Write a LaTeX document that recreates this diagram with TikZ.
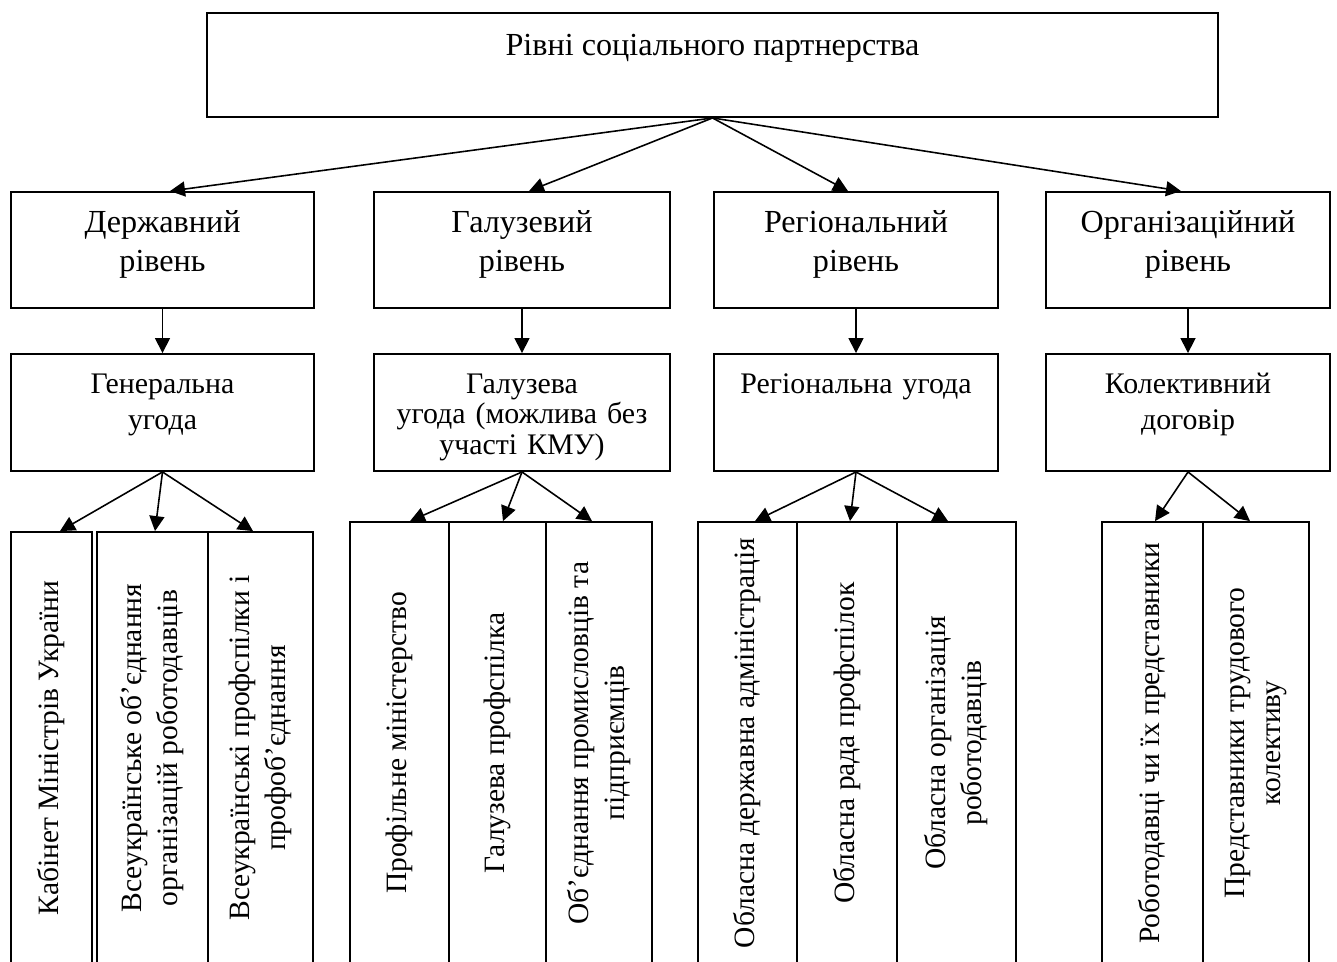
\documentclass[tikz,border=0pt]{standalone}
\usepackage{fontspec}
\setmainfont{Liberation Serif}
\usetikzlibrary{arrows.meta}

\begin{document}
\begin{tikzpicture}[x=0.02cm,y=-0.02cm,
  box/.style={draw,line width=1.1pt,inner sep=0pt,align=center},
  lvl/.style={box,text width=#1,minimum width=#1,minimum height=2.32cm,text height=0.8cm,text depth=1.52cm,font=\fontsize{18.3}{22.2}\selectfont},
  agr/.style={box,text width=#1,minimum width=#1,minimum height=2.34cm,text height=0.78cm,text depth=1.56cm,font=\fontsize{17}{21}\selectfont},
  cell/.style={box,rotate=90,minimum width=8.84cm,minimum height=#1,font=\fontsize{16.8}{20.5}\selectfont},
  arr/.style={-{Triangle[length=0.3cm,width=0.3cm]},line width=0.9pt}]
  \clip (0,0) rectangle (1337,961);
  \node[box,minimum width=20.22cm,minimum height=2.08cm,text height=0.84cm,text depth=1.24cm,font=\fontsize{18.3}{21}\selectfont] (top) at (712.5,65) {Рівні соціального партнерства};

  \node[lvl=6.06cm] (lev1) at (162.5,250) {Державний\\рівень};
  \node[lvl=5.92cm] (lev2) at (522,250) {Галузевий\\рівень};
  \node[lvl=5.68cm] (lev3) at (856,250) {Регіональний\\рівень};
  \node[lvl=5.68cm] (lev4) at (1188,250) {Організаційний\\рівень};

  \node[agr=6.06cm] (agr1) at (162.5,412.5) {Генеральна\\угода};
  \node[agr=5.92cm,font=\fontsize{17}{17.6}\selectfont] (agr2) at (522,412.5) {Галузева\\угода (можлива без\\участі КМУ)};
  \node[agr=5.68cm] (agr3) at (856,412.5) {Регіональна угода};
  \node[agr=5.68cm] (agr4) at (1188,412.5) {Колективний\\договір};

  \node[cell=1.62cm,minimum width=8.64cm] (c11) at (51.5,748) {Кабінет Міністрів України};
  \node[cell=2.22cm,minimum width=8.64cm] (c12) at (152.5,748) {Всеукраїнське об’єднання\\організацій роботодавців};
  \node[cell=2.10cm,minimum width=8.64cm] (c13) at (260.5,748) {Всеукраїнські профспілки і\\профоб’єднання};

  \node[cell=1.98cm] (c21) at (399.5,743) {Профільне міністерство};
  \node[cell=1.94cm] (c22) at (497.5,743) {Галузева профспілка};
  \node[cell=2.12cm] (c23) at (599,743) {Об’єднання промисловців та\\підприємців};

  \node[cell=1.98cm] (c31) at (747.5,743) {Обласна державна адміністрація};
  \node[cell=2.00cm] (c32) at (847,743) {Обласна рада профспілок};
  \node[cell=2.38cm] (c33) at (956.5,743) {Обласна організація\\роботодавців};

  \node[cell=2.02cm] (c41) at (1152.5,743) {Роботодавці чи їх представники};
  \node[cell=2.12cm] (c42) at (1256,743) {Представники трудового\\колективу};

  \draw[arr] (top.south) -- ([xshift=0.15cm]lev1.north);
  \draw[arr] (top.south) -- ([xshift=0.14cm]lev2.north);
  \draw[arr] (top.south) -- ([xshift=-0.16cm]lev3.north);
  \draw[arr] (top.south) -- ([xshift=-0.14cm]lev4.north);

  \foreach \i in {1,...,4} \draw[arr] (lev\i.south) -- (agr\i.north);

  \draw[arr] (agr1.south) -- ([xshift=0.17cm]c11.east);
  \draw[arr] (agr1.south) -- ([xshift=0.05cm]c12.east);
  \draw[arr] (agr1.south) -- ([xshift=-0.15cm]c13.east);
  \draw[arr] (agr2.south) -- ([xshift=0.21cm]c21.east);
  \draw[arr] (agr2.south) -- ([xshift=0.11cm]c22.east);
  \draw[arr] (agr2.south) -- ([xshift=-0.14cm]c23.east);
  \draw[arr] (agr3.south) -- ([xshift=0.15cm]c31.east);
  \draw[arr] (agr3.south) -- ([xshift=0.06cm]c32.east);
  \draw[arr] (agr3.south) -- ([xshift=-0.17cm]c33.east);
  \draw[arr] (agr4.south) -- ([xshift=0.05cm]c41.east);
  \draw[arr] (agr4.south) -- ([xshift=-0.12cm]c42.east);
\end{tikzpicture}
\end{document}
